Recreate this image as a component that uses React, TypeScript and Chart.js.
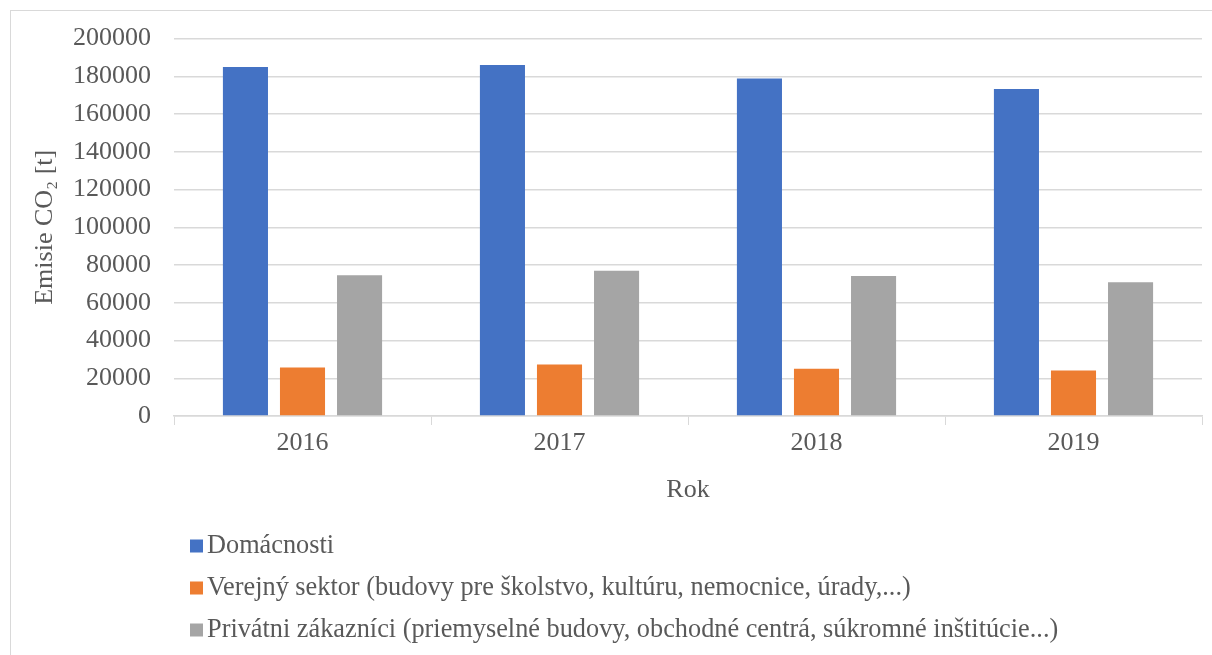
import React, { useEffect, useRef } from "react";
import { Chart, registerables } from "chart.js";

Chart.register(...registerables);

const FONT = '"Liberation Serif", "Times New Roman", serif';
const TEXT_COLOR = "#595959";
const GRID_COLOR = "#d9d9d9";

const years = ["2016", "2017", "2018", "2019"];
const seriesNames = [
  "Domácnosti",
  "Verejný sektor (budovy pre školstvo, kultúru, nemocnice, úrady,...)",
  "Privátni zákazníci (priemyselné budovy, obchodné centrá, súkromné inštitúcie...)",
];
const domacnosti = [185000, 186000, 178800, 173300];
const verejnySektor = [25700, 27300, 25100, 24100];
const privatniZakaznici = [74600, 77000, 74200, 70900];
const seriesColors = ["#4472C4", "#ED7D31", "#A5A5A5"];
const yMin = 0;
const yMax = 200000;
const yStep = 20000;
const yTitle = "Emisie CO₂ [t]";
const xTitle = "Rok";

const legendPlugin = {
  id: "verticalLegend",
  afterDraw(chart: any) {
    const ctx = chart.ctx;
    const left = chart.chartArea.left + 16;
    const top = 546;
    const gap = 42;
    ctx.save();
    ctx.font = `26.3px ${FONT}`;
    ctx.textBaseline = "middle";
    ctx.textAlign = "left";
    chart.data.datasets.forEach((ds: any, i: number) => {
      const y = top + i * gap;
      ctx.fillStyle = ds.backgroundColor;
      ctx.fillRect(left, y - 6.5, 13, 13);
      ctx.fillStyle = TEXT_COLOR;
      ctx.fillText(ds.label, left + 17, y);
    });
    ctx.restore();
  },
};

export default function App() {
  const canvasRef = useRef<HTMLCanvasElement | null>(null);

  useEffect(() => {
    if (!canvasRef.current) return;
    const values = [domacnosti, verejnySektor, privatniZakaznici];
    const chart = new Chart(canvasRef.current, {
      type: "bar",
      data: {
        labels: years,
        datasets: seriesNames.map((name, i) => ({
          label: name,
          data: values[i],
          backgroundColor: seriesColors[i],
          borderWidth: 0,
          categoryPercentage: 0.666,
          barPercentage: 0.79,
        })),
      },
      options: {
        animation: false,
        responsive: false,
        maintainAspectRatio: false,
        layout: { padding: { top: 22.5, right: 10, bottom: 149, left: 0 } },
        plugins: {
          legend: { display: false },
          tooltip: { enabled: false },
        },
        scales: {
          x: {
            grid: {
              display: true,
              offset: true,
              drawOnChartArea: false,
              drawTicks: true,
              tickLength: 9,
              color: GRID_COLOR,
            },
            border: { display: true, color: GRID_COLOR, width: 1.5 },
            ticks: {
              color: TEXT_COLOR,
              font: { family: FONT, size: 26 },
              padding: 3,
            },
            title: {
              display: true,
              text: xTitle,
              color: TEXT_COLOR,
              font: { family: FONT, size: 26 },
              padding: { top: 0, bottom: 0 },
            },
            afterFit(scale: any) {
              scale.height = 90;
            },
          },
          y: {
            min: yMin,
            max: yMax,
            grid: { color: GRID_COLOR, lineWidth: 1.5, drawTicks: false },
            border: { display: false },
            ticks: {
              stepSize: yStep,
              color: TEXT_COLOR,
              font: { family: FONT, size: 26 },
              padding: 23,
              callback: (v: any) => String(v),
            },
            title: {
              display: true,
              text: yTitle,
              color: TEXT_COLOR,
              font: { family: FONT, size: 26 },
              padding: { top: 30, bottom: 0 },
            },
            afterFit(scale: any) {
              scale.width = 174;
            },
          },
        },
      },
      plugins: [legendPlugin],
    });
    return () => chart.destroy();
  }, []);

  return (
    <div
      style={{
        position: "fixed",
        left: 0,
        top: 0,
        width: 1212,
        height: 655,
        overflow: "hidden",
        background: "#ffffff",
      }}
    >
      <div
        style={{
          position: "absolute",
          left: 10,
          top: 10,
          width: 1300,
          height: 700,
          borderTop: `1px solid ${GRID_COLOR}`,
          borderLeft: `1px solid ${GRID_COLOR}`,
        }}
      />
      <canvas
        ref={canvasRef}
        width={1212}
        height={655}
        style={{ position: "absolute", left: 0, top: 0, display: "block" }}
      />
    </div>
  );
}
